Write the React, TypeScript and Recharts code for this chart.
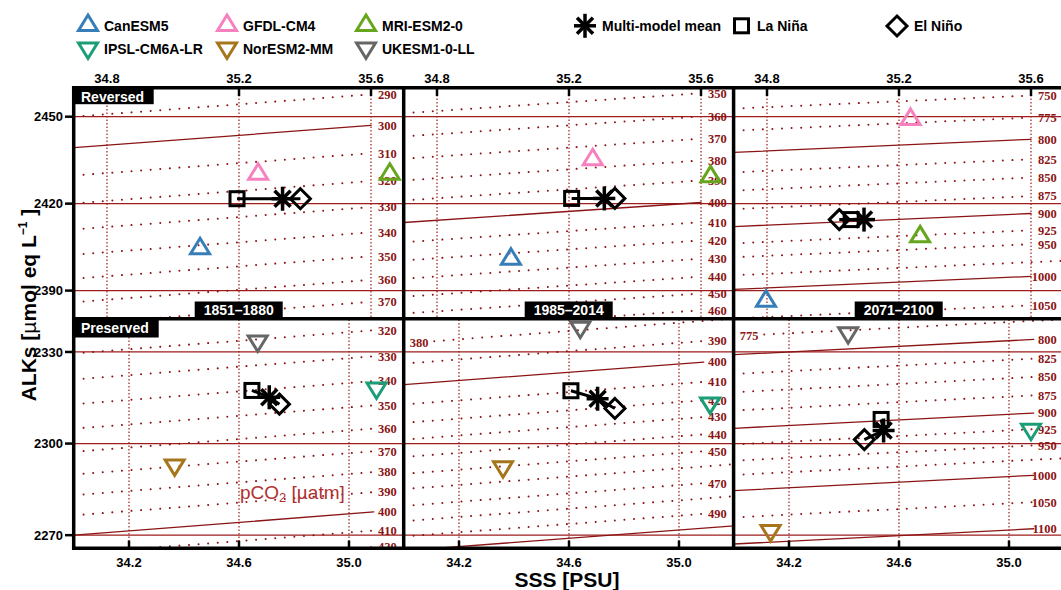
import React from 'react';
import { ComposedChart, Scatter, XAxis, YAxis, ReferenceLine } from 'recharts';

const SANS = '"Liberation Sans", Arial, Helvetica, sans-serif';
const SERIF = '"Liberation Serif", "DejaVu Serif", serif';
const ISO_RED = '#8b1414';
const GRID_RED = '#9e1c1c';

const PERIODS = ['1851–1880', '1985–2014', '2071–2100'];

const MODEL_NAMES = ['CanESM5', 'GFDL-CM4', 'MRI-ESM2-0', 'IPSL-CM6A-LR', 'NorESM2-MM', 'UKESM1-0-LL'];
const MODEL_COLORS = ['#377eb8', '#f781bf', '#66a61e', '#1b9e77', '#a6761d', '#666666'];

// model climatologies, one value per period
const canesmSSS = [35.082, 35.024, 34.797];
const canesmALK = [2405.3, 2401.7, 2387.2];
const gfdlSSS = [35.258, 35.272, 35.235];
const gfdlALK = [2431.0, 2436.0, 2449.9];
const mriSSS = [35.657, 35.629, 35.264];
const mriALK = [2431.0, 2430.1, 2409.4];
const ipslSSS = [35.1, 35.113, 35.08];
const ipslALK = [2317.4, 2312.5, 2303.9];
const noresmSSS = [34.366, 34.36, 34.133];
const noresmALK = [2292.2, 2291.6, 2270.7];
const ukesmSSS = [34.668, 34.641, 34.415];
const ukesmALK = [2332.8, 2337.3, 2335.5];

// ENSO composites, reversed group
const revNinaSSS = [35.194, 35.208, 35.055];
const revNinaALK = [2421.7, 2421.8, 2414.5];
const revMeanSSS = [35.332, 35.307, 35.094];
const revMeanALK = [2421.7, 2421.8, 2414.5];
const revNinoSSS = [35.386, 35.339, 35.019];
const revNinoALK = [2421.7, 2421.8, 2414.5];

// ENSO composites, preserved group
const presNinaSSS = [34.647, 34.607, 34.535];
const presNinaALK = [2317.4, 2317.3, 2307.9];
const presMeanSSS = [34.71, 34.704, 34.544];
const presMeanALK = [2315.2, 2314.7, 2304.3];
const presNinoSSS = [34.747, 34.767, 34.474];
const presNinoALK = [2312.9, 2311.5, 2301.3];

// pCO2 isolines: level and ALKs where the line meets its label
const tlLevels = [290, 300, 310, 320, 330, 340, 350, 360, 370];
const tlAlk = [2457.7, 2447.0, 2437.4, 2427.8, 2418.8, 2410.1, 2401.8, 2393.7, 2386.1];
const tmLevels = [350, 360, 370, 380, 390, 400, 410, 420, 430, 440, 450, 460];
const tmAlk = [2458.1, 2450.1, 2442.4, 2434.9, 2428.0, 2420.4, 2413.6, 2407.3, 2401.0, 2394.8, 2389.0, 2383.2];
const trLevels = [750, 775, 800, 825, 850, 875, 900, 925, 950, 975, 1000, 1050];
const trAlk = [2457.3, 2449.7, 2442.2, 2435.3, 2429.0, 2422.6, 2416.6, 2410.8, 2406.0, 2399.8, 2394.9, 2384.9];
const blLevels = [320, 330, 340, 350, 360, 370, 380, 390, 400, 410, 420];
const blAlk = [2337.1, 2328.6, 2320.5, 2312.5, 2304.9, 2297.5, 2290.7, 2284.1, 2277.6, 2271.5, 2266.1];
const bmLevels = [380, 390, 400, 410, 420, 430, 440, 450, 460, 470, 480, 490, 500];
const bmAlk = [2340.2, 2333.6, 2326.7, 2320.2, 2314.2, 2308.7, 2303.0, 2297.5, 2292.5, 2287.0, 2282.0, 2277.0, 2272.3];
const brLevels = [775, 800, 825, 850, 875, 900, 925, 950, 975, 1000, 1050, 1100];
const brAlk = [2340.2, 2334.1, 2327.8, 2321.8, 2315.8, 2310.0, 2304.7, 2299.4, 2294.7, 2289.6, 2280.8, 2272.1];

const TOP_X_TICKS = [34.8, 35.2, 35.6];
const BOT_X_TICKS = [34.2, 34.6, 35.0];
const TOP_Y_TICKS = [2390, 2420, 2450];
const BOT_Y_TICKS = [2270, 2300, 2330];

const COL_LEFT = [73.7, 403.7, 733.7];
const PANEL_W = 330;
const ROW_TOP = [87.7, 318.7];
const ROW_H = [231, 229.6];
const PAD_L = 70;
const PAD_T = 40;
const PAD_B = 40;

type PanelDef = {
  row: number;
  col: number;
  levels: number[];
  alk: number[];
  rise: number; // ALKs gained along an isoline from left edge to label
  unlabeled: number[];
  leftLabeled: number[];
};

const PANELS: PanelDef[] = [
  { row: 0, col: 0, levels: tlLevels, alk: tlAlk, rise: 7.7, unlabeled: [], leftLabeled: [] },
  { row: 0, col: 1, levels: tmLevels, alk: tmAlk, rise: 6.9, unlabeled: [], leftLabeled: [] },
  { row: 0, col: 2, levels: trLevels, alk: trAlk, rise: 4.5, unlabeled: [975], leftLabeled: [] },
  { row: 1, col: 0, levels: blLevels, alk: blAlk, rise: 7.6, unlabeled: [], leftLabeled: [] },
  { row: 1, col: 1, levels: bmLevels, alk: bmAlk, rise: 7.4, unlabeled: [460, 480, 500], leftLabeled: [380] },
  { row: 1, col: 2, levels: brLevels, alk: brAlk, rise: 5.0, unlabeled: [975], leftLabeled: [775] },
];

const MODEL_SSS = [canesmSSS, gfdlSSS, mriSSS, ipslSSS, noresmSSS, ukesmSSS];
const MODEL_ALK = [canesmALK, gfdlALK, mriALK, ipslALK, noresmALK, ukesmALK];

function TriUp({ cx, cy, color }: { cx: number; cy: number; color: string }) {
  return <path d={`M${cx},${cy - 8}L${cx + 9.5},${cy + 7.5}L${cx - 9.5},${cy + 7.5}Z`} fill="none" stroke={color} strokeWidth={3} />;
}
function TriDown({ cx, cy, color }: { cx: number; cy: number; color: string }) {
  return <path d={`M${cx - 9.5},${cy - 7.5}L${cx + 9.5},${cy - 7.5}L${cx},${cy + 8}Z`} fill="none" stroke={color} strokeWidth={3} />;
}
function Square({ cx, cy }: { cx: number; cy: number }) {
  return <rect x={cx - 7} y={cy - 7} width={14} height={14} fill="none" stroke="#000" strokeWidth={3} />;
}
function Diamond({ cx, cy }: { cx: number; cy: number }) {
  return <path d={`M${cx},${cy - 10}L${cx + 10},${cy}L${cx},${cy + 10}L${cx - 10},${cy}Z`} fill="none" stroke="#000" strokeWidth={3} />;
}
function Star({ cx, cy }: { cx: number; cy: number }) {
  return (
    <g stroke="#000" strokeWidth={3.5}>
      <line x1={cx} y1={cy - 12} x2={cx} y2={cy + 12} />
      <line x1={cx - 11} y1={cy} x2={cx + 11} y2={cy} />
      <line x1={cx - 8} y1={cy - 8} x2={cx + 8} y2={cy + 8} />
      <line x1={cx - 8} y1={cy + 8} x2={cx + 8} y2={cy - 8} />
    </g>
  );
}

function TopTick({ x, y, payload }: any) {
  const axisY = y + 5;
  return (
    <g>
      <line x1={x} x2={x} y1={axisY} y2={axisY + 8} stroke="#000" strokeWidth={2.5} />
      <text x={x} y={y} textAnchor="middle" fontFamily={SANS} fontWeight="bold" fontSize={13} fill="#000">
        {Number(payload.value).toFixed(1)}
      </text>
    </g>
  );
}

function BottomTick({ x, y, payload }: any) {
  const axisY = y - 18;
  return (
    <g>
      <line x1={x} x2={x} y1={axisY - 8} y2={axisY} stroke="#000" strokeWidth={2.5} />
      <text x={x} y={y} textAnchor="middle" fontFamily={SANS} fontWeight="bold" fontSize={13} fill="#000">
        {Number(payload.value).toFixed(1)}
      </text>
    </g>
  );
}

// right-end labels are right-aligned, left-end labels centred
const isoLabel = (props: any) => (
  <text x={props.cx} y={props.cy} dy="0.35em" textAnchor={props.payload.anchor} fill={ISO_RED}
    fontFamily={SERIF} fontWeight="bold" fontSize={12.5}>
    {props.payload.label}
  </text>
);

const ensoShape = (props: any) => {
  const k = props.payload.kind;
  if (k === 'nina') return <Square cx={props.cx} cy={props.cy} />;
  if (k === 'nino') return <Diamond cx={props.cx} cy={props.cy} />;
  return <Star cx={props.cx} cy={props.cy} />;
};

function Panel({ p }: { p: PanelDef }) {
  const top = p.row === 0;
  const xDom = top ? [34.7, 35.7] : [34.0, 35.2];
  const yDom = top ? [2380.2, 2459.9] : [2265.6, 2340.8];
  const sEnd = top ? 35.6 : 35.09;
  const sLabel = top ? 35.678 : 35.174;
  const sLeftLabel = xDom[0] + 0.055;
  const sLeftStart = xDom[0] + 0.11;
  const alkAt = (i: number, s: number) => p.alk[i] - (p.rise * (sEnd - s)) / (sEnd - xDom[0]);

  const labels = p.levels
    .map((lev, i) => {
      if (p.unlabeled.includes(lev)) return null;
      if (p.leftLabeled.includes(lev)) return { x: sLeftLabel, y: alkAt(i, sLeftLabel), label: String(lev), anchor: 'middle' };
      return { x: sLabel, y: p.alk[i], label: String(lev), anchor: 'end' };
    })
    .filter(Boolean);

  const group = top ? [0, 1, 2] : [3, 4, 5];
  const c = p.col;
  const enso = top
    ? [
        { x: revNinaSSS[c], y: revNinaALK[c], kind: 'nina' },
        { x: revMeanSSS[c], y: revMeanALK[c], kind: 'mean' },
        { x: revNinoSSS[c], y: revNinoALK[c], kind: 'nino' },
      ]
    : [
        { x: presNinaSSS[c], y: presNinaALK[c], kind: 'nina' },
        { x: presMeanSSS[c], y: presMeanALK[c], kind: 'mean' },
        { x: presNinoSSS[c], y: presNinoALK[c], kind: 'nino' },
      ];

  const xTicks = top ? TOP_X_TICKS : BOT_X_TICKS;
  const yTicks = top ? TOP_Y_TICKS : BOT_Y_TICKS;

  return (
    <div style={{ position: 'absolute', left: COL_LEFT[p.col] - PAD_L, top: ROW_TOP[p.row] - PAD_T }}>
      <ComposedChart
        width={PANEL_W + PAD_L}
        height={ROW_H[p.row] + PAD_T + PAD_B}
        margin={{
          top: PAD_T - (top ? 20 : 0),
          bottom: PAD_B - (top ? 0 : 25),
          left: PAD_L - (p.col === 0 ? 60 : 0),
          right: 0,
        }}
      >
        <XAxis type="number" dataKey="x" domain={xDom} allowDataOverflow ticks={xTicks} interval={0}
          orientation={top ? 'top' : 'bottom'} height={top ? 20 : 25} axisLine={false} tickLine={false}
          tickSize={0} tickMargin={top ? 5 : 18} tick={top ? <TopTick /> : <BottomTick />} />
        <YAxis type="number" dataKey="y" domain={yDom} allowDataOverflow ticks={yTicks} interval={0}
          hide={p.col !== 0} width={60} axisLine={false} tickSize={9} tickMargin={2} stroke="#000"
          tickLine={{ stroke: '#000', strokeWidth: 2.5 }}
          tick={{ fill: '#000', fontSize: 13, fontWeight: 'bold', fontFamily: SANS }} />

        {xTicks.map((t) => (
          <ReferenceLine key={`vx${t}`} x={t} stroke={GRID_RED} strokeWidth={1.2} strokeDasharray="1.5 2" ifOverflow="hidden" />
        ))}
        {yTicks.map((t) => (
          <ReferenceLine key={`hy${t}`} y={t} stroke={GRID_RED} strokeWidth={1.2} ifOverflow="hidden" />
        ))}

        {p.levels.map((lev, i) => {
          const solid = lev % 100 === 0;
          const leftLab = p.leftLabeled.includes(lev);
          const noLab = p.unlabeled.includes(lev);
          const s0 = leftLab ? sLeftStart : xDom[0];
          const s1 = noLab || leftLab ? xDom[1] : sEnd;
          return (
            <ReferenceLine
              key={`iso${lev}`}
              segment={[{ x: s0, y: alkAt(i, s0) }, { x: s1, y: alkAt(i, s1) }]}
              stroke={ISO_RED}
              strokeWidth={solid ? 1.3 : 2}
              strokeDasharray={solid ? undefined : '0.01 9.6'}
              strokeLinecap="round"
              ifOverflow="hidden"
            />
          );
        })}

        <Scatter data={labels as any[]} shape={isoLabel} isAnimationActive={false} legendType="none" />

        {group.map((m) => (
          <Scatter
            key={MODEL_NAMES[m]}
            name={MODEL_NAMES[m]}
            data={[{ x: MODEL_SSS[m][c], y: MODEL_ALK[m][c] }]}
            isAnimationActive={false}
            shape={(sp: any) =>
              top ? <TriUp cx={sp.cx} cy={sp.cy} color={MODEL_COLORS[m]} /> : <TriDown cx={sp.cx} cy={sp.cy} color={MODEL_COLORS[m]} />
            }
          />
        ))}

        <Scatter data={enso} isAnimationActive={false} line={{ stroke: '#000', strokeWidth: 3 }} lineType="joint" shape={ensoShape} />
      </ComposedChart>
    </div>
  );
}

const LEGEND_MODEL_POS = [[88, 23], [227, 23], [366, 23], [88, 50.5], [227, 50.5], [366, 50.5]];

function Overlay() {
  const frameX = [73.7, 403.7, 733.6, 1063.6];
  return (
    <svg width={1061} height={590} style={{ position: 'absolute', left: 0, top: 0, pointerEvents: 'none' }}>
      {/* panel frames */}
      <g stroke="#000" strokeWidth={3.5}>
        <line x1={72} x2={1070} y1={87.7} y2={87.7} />
        <line x1={72} x2={1070} y1={318.7} y2={318.7} />
        <line x1={72} x2={1070} y1={548.3} y2={548.3} />
        {frameX.map((x) => (
          <line key={x} x1={x} x2={x} y1={86} y2={550} />
        ))}
      </g>

      <rect x={73.7} y={87.7} width={80} height={16.5} fill="#000" />
      <text x={81} y={101.5} fill="#fff" fontFamily={SANS} fontWeight="bold" fontSize={14}>Reversed</text>
      <rect x={73.7} y={318.7} width={85} height={18.8} fill="#000" />
      <text x={81} y={333} fill="#fff" fontFamily={SANS} fontWeight="bold" fontSize={14}>Preserved</text>

      {PERIODS.map((pl, i) => {
        const cx = COL_LEFT[i] + PANEL_W / 2;
        return (
          <g key={pl}>
            <rect x={cx - 44} y={301.5} width={88} height={17.2} fill="#000" />
            <text x={cx} y={315} textAnchor="middle" fill="#fff" fontFamily={SANS} fontWeight="bold" fontSize={14}>{pl}</text>
          </g>
        );
      })}

      <text x={240} y={498.5} fill="#b03030" fontFamily={SANS} fontSize={19}>
        pCO<tspan fontSize={13} dy={3}>2</tspan><tspan dy={-3}> [µatm]</tspan>
      </text>

      {/* legend */}
      {MODEL_NAMES.map((name, i) => {
        const [x, y] = LEGEND_MODEL_POS[i];
        return (
          <g key={name}>
            {i < 3 ? <TriUp cx={x} cy={y} color={MODEL_COLORS[i]} /> : <TriDown cx={x} cy={y} color={MODEL_COLORS[i]} />}
            <text x={x + 16} y={i < 3 ? 30.7 : 54} fontFamily={SANS} fontWeight="bold" fontSize={14}>{name}</text>
          </g>
        );
      })}
      <Star cx={585} cy={25.8} />
      <text x={602} y={30.7} fontFamily={SANS} fontWeight="bold" fontSize={14}>Multi-model mean</text>
      <Square cx={741.5} cy={25.8} />
      <text x={757} y={30.7} fontFamily={SANS} fontWeight="bold" fontSize={14}>La Niña</text>
      <Diamond cx={897} cy={26} />
      <text x={914} y={30.7} fontFamily={SANS} fontWeight="bold" fontSize={14}>El Niño</text>

      {/* axis titles */}
      <text x={567} y={587} textAnchor="middle" fontFamily={SANS} fontWeight="bold" fontSize={21}>SSS [PSU]</text>
      <text transform="translate(36,305) rotate(-90)" textAnchor="middle" fontFamily={SANS} fontWeight="bold" fontSize={21}>
        ALKs [<tspan fontWeight="normal">µ</tspan>mol eq L<tspan fontSize={12} dy={-9}>−1</tspan>
        <tspan dy={9}> ]</tspan>
      </text>
    </svg>
  );
}

export default function App() {
  return (
    <div style={{ position: 'absolute', left: 0, top: 0, width: 1061, height: 590, overflow: 'hidden', background: '#fff' }}>
      {PANELS.map((p) => (
        <Panel key={`${p.row}-${p.col}`} p={p} />
      ))}
      <Overlay />
    </div>
  );
}
